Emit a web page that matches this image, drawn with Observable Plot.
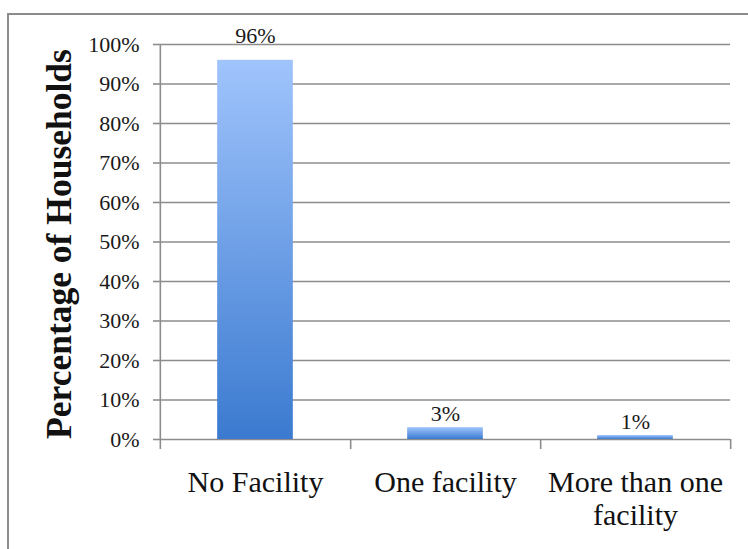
<!DOCTYPE html>
<html>
<head>
<meta charset="utf-8">
<script src="https://cdn.jsdelivr.net/npm/d3@7"></script>
<script src="https://cdn.jsdelivr.net/npm/@observablehq/plot@0.6"></script>
<style>
  html, body { margin: 0; padding: 0; background: #fff; }
  #wrap { position: relative; width: 748px; height: 549px; overflow: hidden; }
  #border { position: absolute; left: 7px; top: 13px; width: 800px; height: 600px;
            border-left: 2px solid #8c8c8c; border-top: 2px solid #8c8c8c; }
  #chart { position: absolute; left: 0; top: 0; }
</style>
</head>
<body>
<div id="wrap"><div id="border"></div><div id="chart"></div></div>
<script>
// Households by number of facilities
const categories = ["No Facility", "One facility", "More than one facility"];
const tickLabels = ["No Facility", "One facility", "More than one\nfacility"];
const shares = [96, 3, 1];
const yTicks = [0, 10, 20, 30, 40, 50, 60, 70, 80, 90, 100];
const yLabel = "Percentage of Households";

const data = categories.map((c, i) => ({ category: c, value: shares[i] }));

const width = 748, height = 549;
const marginLeft = 159, marginRight = 18, marginTop = 44, marginBottom = 110;
const band = (width - marginLeft - marginRight) / categories.length;
const barInset = (band - 76) / 2;
const serif = "Liberation Serif, Times New Roman, serif";
const grid = "#8c8c8c";

const chart = Plot.plot({
  width, height, marginLeft, marginRight, marginTop, marginBottom,
  style: { fontFamily: serif, color: "#1a1a1a", background: "transparent" },
  x: { domain: categories, padding: 0 },
  y: { domain: [0, 100] },
  marks: [
    Plot.gridY(yTicks, { stroke: grid, strokeOpacity: 1, strokeWidth: 1.6 }),
    Plot.axisY(yTicks, {
      tickFormat: d => d + "%", tickSize: 6, tickPadding: 14, stroke: grid,
      strokeWidth: 1.6, fontSize: 22, fill: "#1a1a1a", label: null
    }),
    Plot.axisX({
      tickSize: 0, tickPadding: 28, fontSize: 30, lineHeight: 1.13, label: null,
      tickFormat: d => tickLabels[categories.indexOf(d)], fill: "#111"
    }),
    // vertical axis line, running past zero like a category tick
    Plot.ruleX([categories[0]], {
      y1: 100, y2: 0, dx: -band / 2, insetBottom: -10, stroke: grid, strokeWidth: 1.6
    }),
    // category boundary ticks under the baseline
    Plot.ruleX(categories, {
      y1: 0, y2: 0, dx: band / 2, insetBottom: -10, stroke: grid, strokeWidth: 1.6
    }),
    Plot.barY(data, {
      x: "category", y: "value", fill: "url(#barFill)",
      insetLeft: barInset, insetRight: barInset
    }),
    // value labels; a label that would meet the top gridline sits above the frame
    Plot.text(data.filter(d => d.value < 90), {
      x: "category", y: "value", text: d => d.value + "%",
      lineAnchor: "bottom", dy: -7, fontSize: 22, fill: "#1a1a1a"
    }),
    Plot.text(data.filter(d => d.value >= 90), {
      x: "category", frameAnchor: "top", text: d => d.value + "%",
      lineAnchor: "bottom", dy: -2, fontSize: 22, fill: "#1a1a1a"
    }),
    Plot.text([yLabel], {
      frameAnchor: "left", textAnchor: "middle", text: d => d, rotate: -90, dx: -100, dy: 2,
      fontSize: 35.5, fontWeight: "bold", fill: "#111"
    })
  ]
});

// vertical gradient for the bars: light at the top, deeper blue at the base
const defs = d3.select(chart).insert("defs", ":first-child");
const grad = defs.append("linearGradient")
  .attr("id", "barFill").attr("x1", 0).attr("y1", 0).attr("x2", 0).attr("y2", 1);
grad.append("stop").attr("offset", "0%").attr("stop-color", "#a0c4fc");
grad.append("stop").attr("offset", "100%").attr("stop-color", "#3b7ad0");

document.getElementById("chart").appendChild(chart);
</script>
</body>
</html>
